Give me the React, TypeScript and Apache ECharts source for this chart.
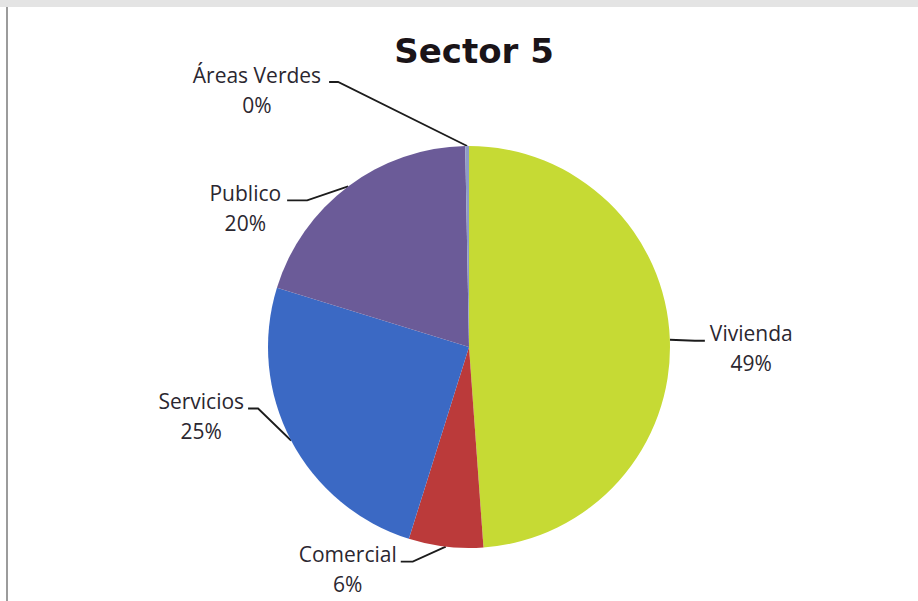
import React, { useEffect, useRef } from "react";
import * as echarts from "echarts";

// ---- data ----
const TITLE = "Sector 5";
const categories = ["Vivienda", "Comercial", "Servicios", "Publico", "Áreas Verdes"];
const values = [49, 6, 25, 20, 0.3];
const colors = ["#c6da34", "#bb3a3a", "#3b69c4", "#6b5b98", "#8e9cc6"];

// ---- label layout (offset of the leader-line knee from the slice edge, stub, gap) ----
const kneeOffsets: number[][] = [
  [25, 1],
  [-33, 15],
  [-33, -32],
  [-41, 14],
  [-129, -64],
];
const stubLengths = [10, 12, 10, 20, 9];
const textGaps = [5, 4, 4, 6, 8];

const CX = 469;
const CY = 347;
const R = 201;

export default function App() {
  const ref = useRef<HTMLDivElement>(null);
  useEffect(() => {
    if (!ref.current) return;
    const chart = echarts.init(ref.current, null, { renderer: "svg" });
    const total = values.reduce((a, b) => a + b, 0);
    const edgeFor = (idx: number) => {
      let before = 0;
      for (let i = 0; i < idx; i++) before += values[i];
      const mid = ((before + values[idx] / 2) / total) * Math.PI * 2;
      return [CX + R * Math.sin(mid), CY - R * Math.cos(mid)];
    };
    const textStyle = {
      fontFamily: "Open Sans",
      fontSize: 21,
      color: "#2b2730",
      lineHeight: 30,
      align: "center",
    };
    chart.setOption({
      animation: false,
      backgroundColor: "#ffffff",
      title: {
        text: TITLE,
        left: 474,
        top: 31,
        padding: 0,
        textAlign: "center",
        textStyle: {
          fontFamily: "DejaVu Sans",
          fontWeight: "bold",
          fontSize: 34,
          lineHeight: 40,
          color: "#1a1418",
        },
      },
      graphic: [
        {
          type: "rect",
          z: -10,
          shape: { x: 0, y: 0, width: 918, height: 7 },
          style: { fill: "#e4e4e4" },
        },
        {
          type: "rect",
          z: -10,
          shape: { x: 6, y: 7, width: 2, height: 594 },
          style: { fill: "#9c9c9c" },
        },
      ],
      series: [
        {
          type: "pie",
          center: [CX, CY],
          radius: R,
          startAngle: 90,
          clockwise: true,
          avoidLabelOverlap: false,
          data: categories.map((name, i) => ({
            name,
            value: values[i],
            itemStyle: { color: colors[i] },
          })),
          label: {
            show: true,
            position: "outside",
            formatter: (p: any) => `{n|${p.name}}\n{p|${Math.round(p.percent)}%}`,
            rich: { n: textStyle, p: textStyle },
          },
          labelLine: {
            show: true,
            length: 20,
            length2: 10,
            lineStyle: { color: "#1c1c1c", width: 1.8 },
          },
          labelLayout: (params: any) => {
            const i = params.dataIndex;
            const pts = params.labelLinePoints;
            const edge = pts && pts[0] ? pts[0] : edgeFor(i);
            const off = kneeOffsets[i];
            const side = off[0] < 0 ? -1 : 1;
            const knee = [edge[0] + off[0], edge[1] + off[1]];
            const end = [knee[0] + side * stubLengths[i], knee[1]];
            return {
              x: end[0] + side * textGaps[i],
              y: end[1] + 7.5,
              align: side < 0 ? "right" : "left",
              verticalAlign: "middle",
              labelLinePoints: [edge, knee, end],
            };
          },
          emphasis: { disabled: true },
        },
      ],
    });
    return () => chart.dispose();
  }, []);
  return (
    <div
      ref={ref}
      style={{ position: "fixed", left: 0, top: 0, width: 918, height: 601 }}
    />
  );
}
